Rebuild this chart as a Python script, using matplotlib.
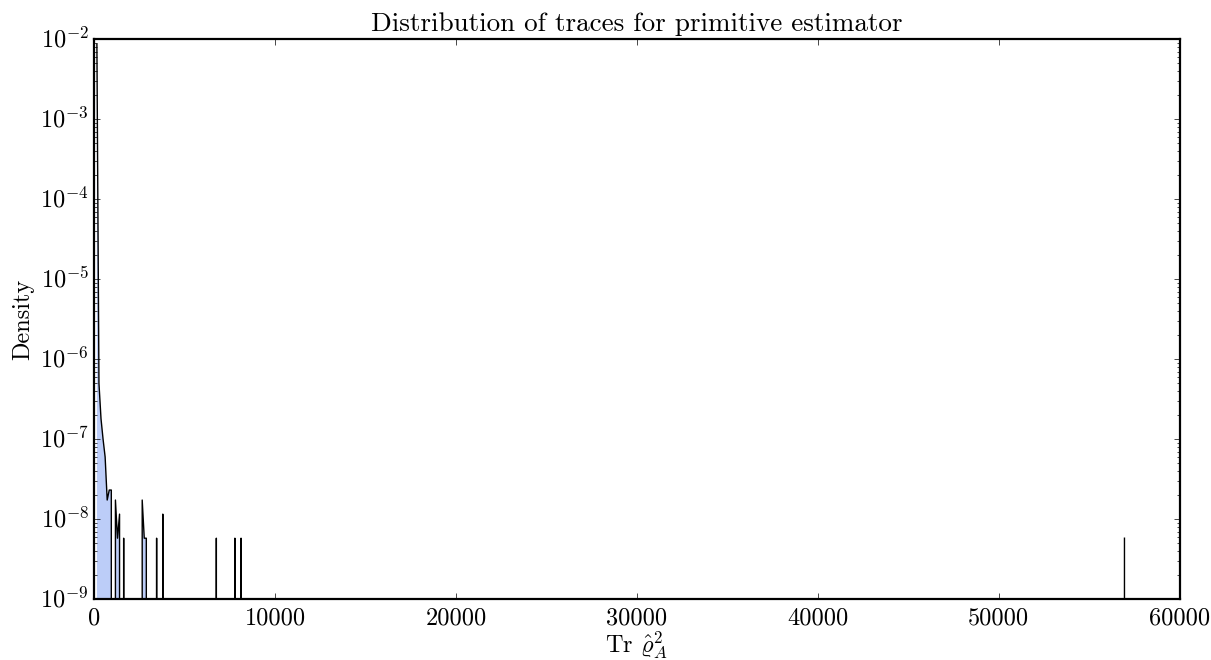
import numpy as np
import matplotlib
matplotlib.use("Agg")
import matplotlib.pyplot as plt

# Histogram of the trace estimates: 500 equal-width bins over [x_lo, x_hi]
n_bins = 500
x_lo, x_hi = 78.0, 57013.0

# Density in the leading bins (0..7), where almost all of the mass sits
head_density = [8.7e-3, 5.0e-7, 1.8e-7, 1.0e-7, 6.0e-8, 1.74e-8, 2.32e-8, 2.32e-8]

# Sparse outliers further out: bin index and density
tail_bins = [9, 10, 11, 13, 22, 23, 24, 29, 32, 58, 67, 70, 499]
tail_density = [1.74e-8, 5.8e-9, 1.16e-8, 5.8e-9, 1.74e-8, 5.8e-9, 5.8e-9,
                5.8e-9, 1.16e-8, 5.8e-9, 5.8e-9, 5.8e-9, 5.8e-9]

x_ticks = [0, 10000, 20000, 30000, 40000, 50000, 60000]

plt.style.use("classic")
plt.rcParams.update({
    "font.family": "serif",
    "font.serif": ["cmr10"],
    "mathtext.fontset": "cm",
    "axes.formatter.use_mathtext": True,
    "figure.facecolor": "white",
    "savefig.facecolor": "white",
    "font.size": 17.5,
    "axes.linewidth": 1.6,
    "xtick.major.pad": 6,
})

edges = np.linspace(x_lo, x_hi, n_bins + 1)
centers = 0.5 * (edges[:-1] + edges[1:])
density = np.zeros(n_bins)
density[:len(head_density)] = head_density
density[tail_bins] = tail_density

fig = plt.figure(figsize=(12.11, 6.6), dpi=100)
ax = fig.add_axes([0.078, 0.092, 0.896, 0.8485])

ax.set_yscale("log", nonpositive="clip")
ax.fill_between(centers, density, color="#bccdf8", lw=0)
ax.plot(centers, density, color="black", lw=1.0)

ax.set_xlim(0, 60000)
ax.set_ylim(1e-9, 1e-2)
ax.set_xticks(x_ticks)
ax.set_xticklabels([str(t) for t in x_ticks])

ax.set_title("Distribution of traces for primitive estimator", fontsize=19.5, pad=6)
ax.set_xlabel(r"Tr $\hat{\varrho}_A^2$", va="top")
ax.xaxis.set_label_coords(0.5, -0.054)
ax.set_ylabel("Density", labelpad=4)

fig.savefig("out.png", dpi=100)
